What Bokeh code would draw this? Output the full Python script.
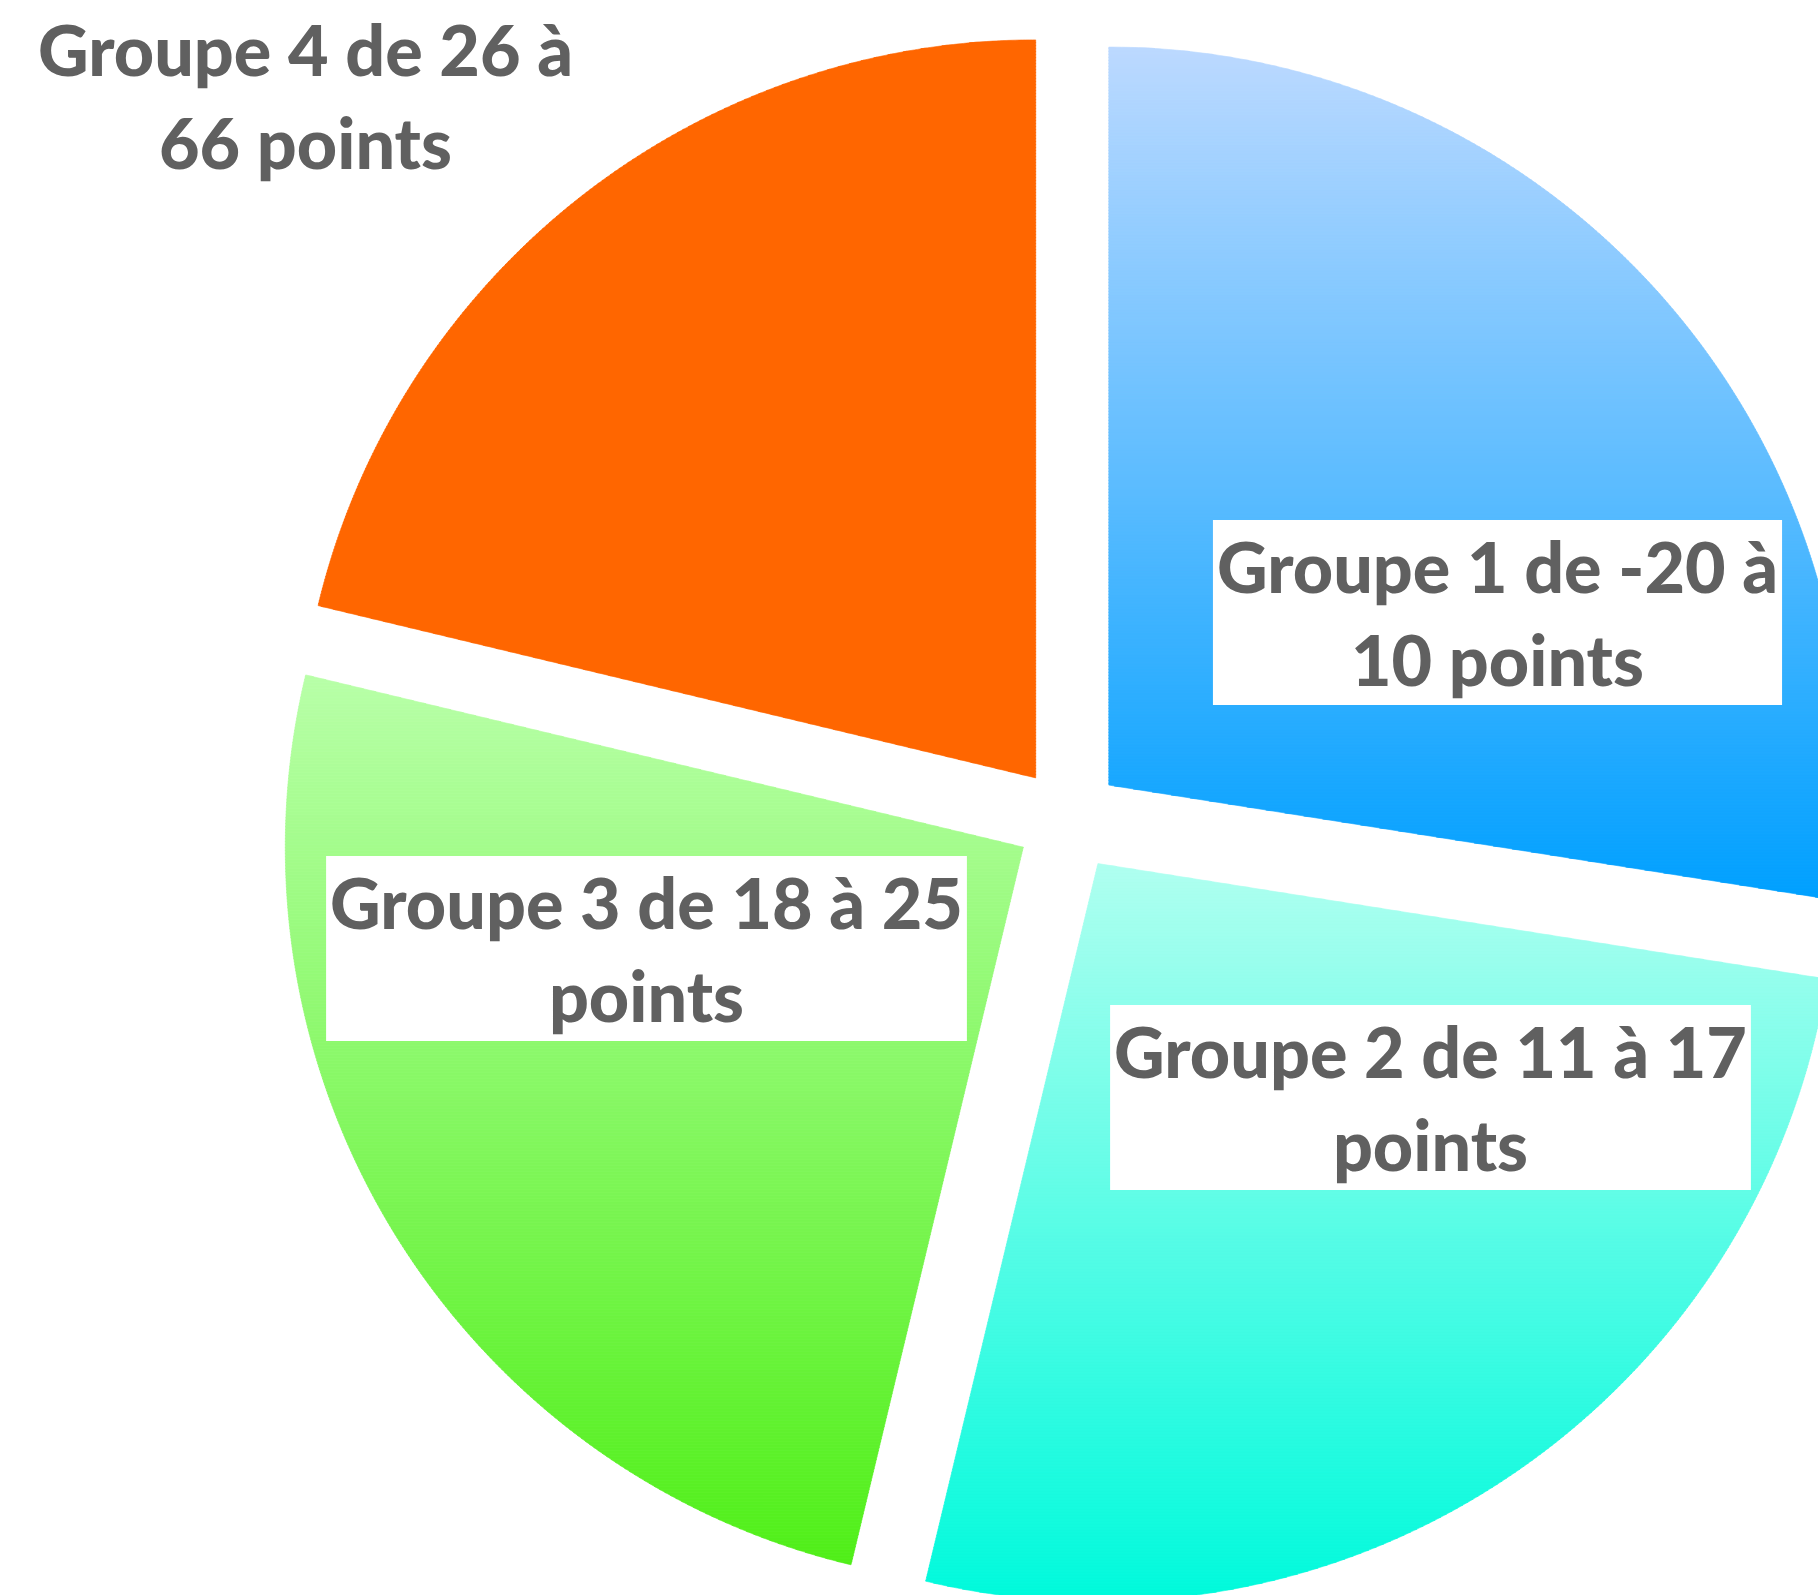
import numpy as np
from bokeh.plotting import figure
from bokeh.models import Range1d
from bokeh.core.properties import value
from bokeh.embed import file_html
from bokeh.resources import INLINE

# ---- data ----
groups = ["Groupe 1", "Groupe 2", "Groupe 3", "Groupe 4"]
counts = [22, 21, 20, 17]
labels = [
    "Groupe 1 de -20 à\n10 points",
    "Groupe 2 de 11 à 17\npoints",
    "Groupe 3 de 18 à 25\npoints",
    "Groupe 4 de 26 à\n66 points",
]
color_top = ["#bcd9ff", "#b0fff0", "#b8ffa8", "#ff6600"]
color_bottom = ["#00a0ff", "#00fadc", "#50ef18", "#ff6600"]

# ---- layout ----
W, H = 1818, 1595
CX, CY = 1068.0, 776.0
R = 738.0
EXPLODE = 53.0
label_pos = [(1497, 983), (1430, 498), (646, 647), (305, 1500)]

p = figure(width=W, height=H, x_range=Range1d(0, W), y_range=Range1d(0, H),
           output_backend="svg", toolbar_location=None, min_border=0)
p.axis.visible = False
p.grid.visible = False
p.outline_line_color = None
p.background_fill_color = "white"
p.border_fill_color = "white"


def clip(poly, lo, hi):
    def half(pts, keep, inter_y):
        out = []
        n = len(pts)
        for i in range(n):
            a = pts[i]
            b = pts[(i + 1) % n]
            ka, kb = keep(a), keep(b)
            if ka:
                out.append(a)
            if ka != kb:
                t = (inter_y - a[1]) / (b[1] - a[1])
                out.append((a[0] + t * (b[0] - a[0]), inter_y))
        return out
    pts = half(poly, lambda q: q[1] >= lo, lo)
    if len(pts) < 3:
        return []
    pts = half(pts, lambda q: q[1] <= hi, hi)
    return pts if len(pts) >= 3 else []


def hex2rgb(h):
    h = h.lstrip("#")
    return np.array([int(h[i:i + 2], 16) for i in (0, 2, 4)], dtype=float)


def rgb2hex(c):
    c = np.clip(np.round(c), 0, 255).astype(int)
    return "#%02x%02x%02x" % tuple(c)


total = float(sum(counts))
start = np.pi / 2
xs, ys, cols = [], [], []
for i, v in enumerate(counts):
    span = 2 * np.pi * v / total
    a0, a1 = start, start - span
    mid = (a0 + a1) / 2
    ax = CX + EXPLODE * np.cos(mid)
    ay = CY + EXPLODE * np.sin(mid)
    th = np.linspace(a0, a1, 300)
    poly = [(ax, ay)] + [(ax + R * np.cos(t), ay + R * np.sin(t)) for t in th]
    ymin = min(q[1] for q in poly)
    ymax = max(q[1] for q in poly)
    ct, cb = hex2rgb(color_top[i]), hex2rgb(color_bottom[i])
    step = 3.0
    y = ymin
    while y < ymax:
        lo, hi = y, min(y + step + 0.6, ymax)
        piece = clip(poly, lo, hi)
        if piece:
            tmid = (ymax - (y + step / 2)) / (ymax - ymin)
            c = rgb2hex(ct + (cb - ct) * min(max(tmid, 0), 1))
            xs.append([q[0] for q in piece])
            ys.append([q[1] for q in piece])
            cols.append(c)
        y += step
    start = a1

p.patches(xs, ys, fill_color=cols, line_color=cols, line_width=0.6)

common = dict(text_font=value("Lato Heavy"), text_font_style="bold", text_font_size="70px",
              text_color="#606060", text_align="center", text_baseline="middle",
              text_line_height=1.11)
p.text(x=[q[0] for q in label_pos[:3]], y=[q[1] for q in label_pos[:3]], text=labels[:3],
       background_fill_color="white", padding=4, **common)
p.text(x=[label_pos[3][0]], y=[label_pos[3][1]], text=[labels[3]], **common)

open("out.html", "w").write(file_html(p, INLINE))
